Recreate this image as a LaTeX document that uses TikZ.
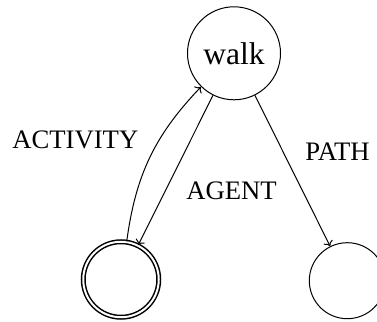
\documentclass[tikz,border=0pt]{standalone}
\usepackage{fontspec}
\setmainfont{Liberation Serif}
\usetikzlibrary{arrows.meta}
\begin{document}
\begin{tikzpicture}[x=1pt,y=1pt,
  line width=1pt,
  statebox/.style={circle,draw,inner sep=0pt},
  lbl/.style={font=\fontsize{26.7}{30}\selectfont,anchor=base,inner sep=0pt},
  conn/.style={-{To[length=5pt,width=10pt]}}]
\useasboundingbox (0,0) rectangle (377,321);
\node[statebox,minimum size=93pt,font=\fontsize{31.5}{36}\selectfont] (walk) at (234,267.7) {walk};
\node[statebox,minimum size=75.5pt,double,line width=1.5pt,double distance=2pt] (acc) at (121,41.5) {};
\node[statebox,minimum size=76pt] (right) at (347.3,40.3) {};
\draw[conn] (acc) to[bend left=18] (walk);
\draw[conn] (walk) -- (acc);
\draw[conn] (walk) -- (right);
\node[lbl] (lact) at (75.3,172) {ACTIVITY};
\node[lbl] (lagent) at (231.5,121) {AGENT};
\node[lbl] (lpath) at (337.5,160) {PATH};
\end{tikzpicture}
\end{document}
